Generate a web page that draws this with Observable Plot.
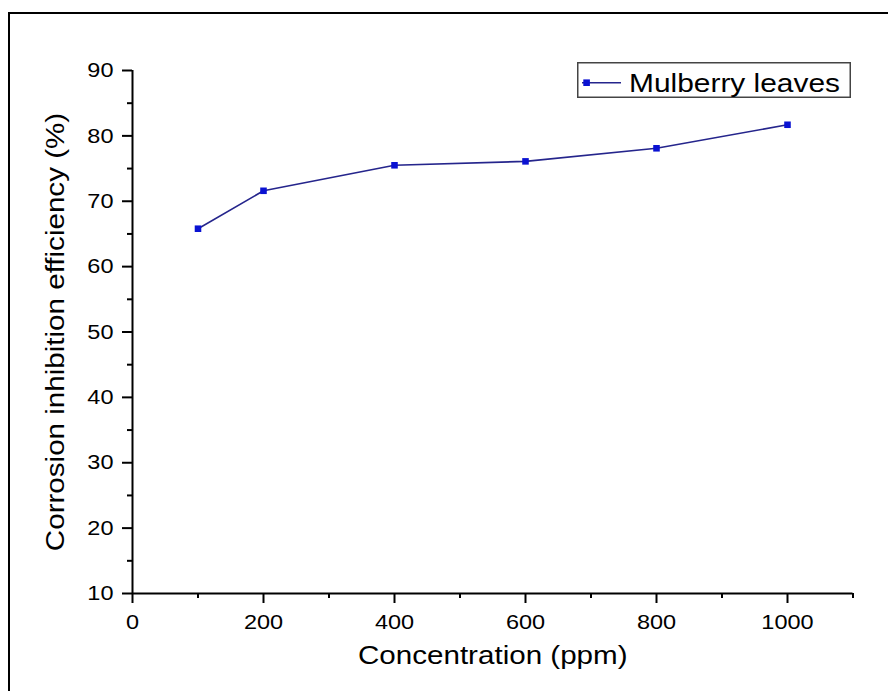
<!DOCTYPE html>
<html>
<head>
<meta charset="utf-8">
<script src="https://cdn.jsdelivr.net/npm/d3@7"></script>
<script src="https://cdn.jsdelivr.net/npm/@observablehq/plot@0.6"></script>
<style>
  html, body { margin: 0; padding: 0; background: #fff; overflow: hidden; }
  #chart { position: relative; width: 888px; height: 691px; overflow: hidden; background: #fff;
           font-family: "Liberation Sans", Arial, sans-serif; }
  #chart > svg.plot, #chart > svg:not(#legend) { position: absolute; left: 0; top: 0; }
  #frame { position: absolute; left: 8px; top: 12px; width: 1000px; height: 1000px;
           border-top: 2px solid #000; border-left: 2px solid #000; box-sizing: border-box; z-index: 2; }
  #legend { position: absolute; left: 577px; top: 62px; z-index: 3; }
</style>
</head>
<body>
<div id="chart"><div id="frame"></div></div>
<script>
// Inhibition efficiency measured at each inhibitor concentration
const concentration = [100, 200, 400, 600, 800, 1000];       // ppm
const efficiency    = [65.8, 71.6, 75.5, 76.1, 78.1, 81.7];  // %

const xMajorTicks = [0, 200, 400, 600, 800, 1000];
const xMinorTicks = [100, 300, 500, 700, 900, 1100];
const yMajorTicks = [10, 20, 30, 40, 50, 60, 70, 80, 90];
const yMinorTicks = [15, 25, 35, 45, 55, 65, 75, 85];

const seriesName = "Mulberry leaves";
const xTitle = "Concentration (ppm)";
const yTitle = "Corrosion inhibition efficiency (%)";

const lineColor = "#25258c";
const markerColor = "#0a12d2";

const rows = concentration.map((c, i) => ({c, e: efficiency[i]}));

const chart = Plot.plot({
  width: 888,
  height: 691,
  marginLeft: 132,
  marginRight: 35.5,
  marginTop: 70,
  marginBottom: 98,
  style: {fontFamily: '"Liberation Sans", Arial, sans-serif', fontSize: "21px", background: "transparent", color: "#000"},
  x: {domain: [0, 1100], label: null},
  y: {domain: [10, 90], label: null},
  marks: [
    // minor ticks
    Plot.axisX(xMinorTicks, {tickSize: 5, tickFormat: () => "", strokeWidth: 2, label: null}),
    Plot.axisY(yMinorTicks, {tickSize: 5, tickFormat: () => "", strokeWidth: 2, label: null}),
    // major ticks with labels
    Plot.axisX(xMajorTicks, {tickSize: 10, tickPadding: 11, fontSize: 21, strokeWidth: 2, label: null, tickFormat: d => String(d)}),
    Plot.axisY(yMajorTicks, {tickSize: 10, tickPadding: 9, fontSize: 21, strokeWidth: 2, label: null, tickFormat: d => String(d)}),
    // axis lines (left and bottom only)
    Plot.ruleX([0], {stroke: "#000", strokeWidth: 2}),
    Plot.ruleY([10], {stroke: "#000", strokeWidth: 2}),
    // axis titles
    Plot.text([xTitle], {text: d => d, frameAnchor: "bottom", textAnchor: "middle", dy: 70, fontSize: 25.5, fill: "#000"}),
    Plot.text([yTitle], {text: d => d, frameAnchor: "left", textAnchor: "middle", dx: -77, rotate: -90, fontSize: 25.5, fill: "#000"}),
    // series
    Plot.line(rows, {x: "c", y: "e", stroke: lineColor, strokeWidth: 1.6}),
    Plot.dot(rows, {x: "c", y: "e", symbol: "square", r: 3.7, fill: markerColor, stroke: "none"})
  ]
});

// The lettering of this figure is set a little wide; widen each label about its anchor.
chart.querySelectorAll("text").forEach(t => {
  const holder = t.closest("[font-size]");
  const fs = holder ? parseFloat(holder.getAttribute("font-size")) : 21;
  const s = fs >= 24 ? 1.16 : 1.12;
  let tr = t.getAttribute("transform") || "";
  const xa = t.getAttribute("x");
  if (xa !== null && /^-?[\d.]+$/.test(xa)) {
    tr += ` translate(${xa},0)`;
    t.removeAttribute("x");
  }
  t.setAttribute("transform", `${tr} scale(${s},1)`.trim());
});

document.getElementById("chart").appendChild(chart);

// Legend box
const legend = d3.select("#chart").append("svg")
  .attr("id", "legend")
  .attr("width", 275)
  .attr("height", 37);
legend.append("rect")
  .attr("x", 0.75).attr("y", 0.75)
  .attr("width", 272.5).attr("height", 34.5)
  .attr("fill", "#fff").attr("stroke", "#444").attr("stroke-width", 1.5);
legend.append("line")
  .attr("x1", 5).attr("x2", 44).attr("y1", 20.7).attr("y2", 20.7)
  .attr("stroke", lineColor).attr("stroke-width", 1.6);
legend.append("rect")
  .attr("x", 6.3).attr("y", 17.4).attr("width", 6.6).attr("height", 6.6)
  .attr("fill", markerColor);
legend.append("text")
  .attr("x", 52).attr("y", 30)
  .attr("font-size", 25)
  .attr("font-family", '"Liberation Sans", Arial, sans-serif')
  .attr("fill", "#000")
  .attr("textLength", 211)
  .attr("lengthAdjust", "spacingAndGlyphs")
  .text(seriesName);
</script>
</body>
</html>
